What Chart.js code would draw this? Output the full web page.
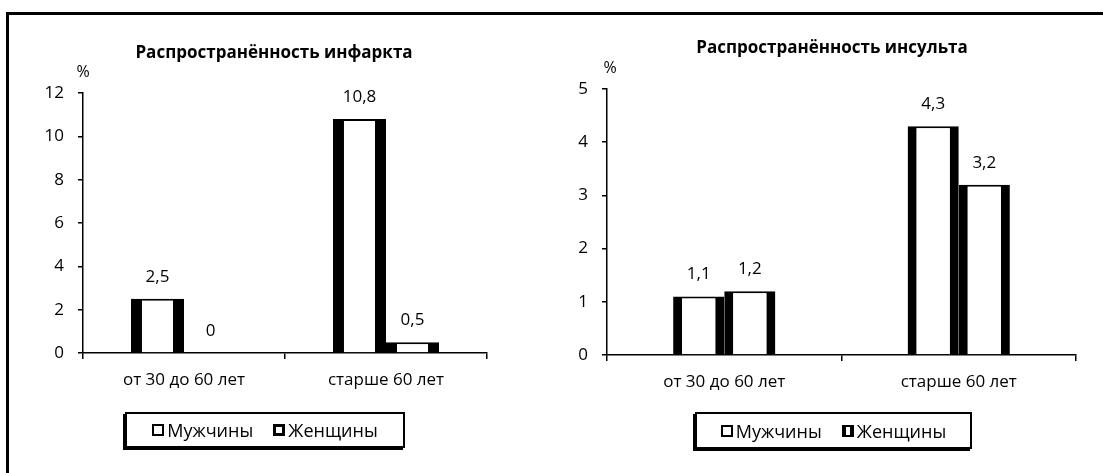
<!DOCTYPE html>
<html>
<head>
<meta charset="utf-8">
<script src="https://cdn.jsdelivr.net/npm/chart.js@4.4.1/dist/chart.umd.min.js"></script>
<style>
  html, body { margin: 0; padding: 0; background: #fff; width: 1103px; height: 473px; overflow: hidden; }
  #frame { position: absolute; left: 6px; top: 12px; width: 1120px; height: 500px;
           border-top: 3px solid #000; border-left: 3px solid #000; }
  .panel { position: absolute; top: 0; height: 473px; }
  #p1 { left: 9px; width: 530px; }
  #p2 { left: 561px; width: 542px; }
  canvas { display: block; }
  .legend { position: absolute; box-sizing: border-box; border: 2px solid #000; box-shadow: -2px 2px 0 #000;
            background: #fff; display: flex; align-items: center; justify-content: center;
            font-family: "Open Sans", sans-serif; font-size: 18px; color: #000; }
  .legend .item { display: flex; align-items: center; margin: 0 10px; }
  .legend .mark { box-sizing: border-box; width: 12px; height: 12px; background: #fff; margin-right: 3px; border: 2px solid #000; }
  #lg1 { left: 125px; top: 412px; width: 280px; height: 36px; }
  #lg2 { left: 695px; top: 412px; width: 277px; height: 37px; }
</style>
</head>
<body>
<div id="frame"></div>
<div class="panel" id="p1"><canvas id="c1" width="530" height="473"></canvas></div>
<div class="panel" id="p2"><canvas id="c2" width="542" height="473"></canvas></div>
<div class="legend" id="lg1"></div>
<div class="legend" id="lg2"></div>
<script>
// Age groups and sexes
const categories = ['от 30 до 60 лет', 'старше 60 лет'];
const seriesNames = ['Мужчины', 'Женщины'];

// Prevalence of myocardial infarction, %
const infarctMen = [2.5, 10.8];
const infarctWomen = [0, 0.5];
const infarctTicks = [0, 2, 4, 6, 8, 10, 12];

// Prevalence of stroke, %
const strokeMen = [1.1, 4.3];
const strokeWomen = [1.2, 3.2];
const strokeTicks = [0, 1, 2, 3, 4, 5];

const FONT = '"Open Sans", sans-serif';
Chart.defaults.font.family = FONT;
Chart.defaults.color = '#000';

// Numbers above bars, with a decimal comma
const valueLabels = {
  id: 'valueLabels',
  afterDatasetsDraw(chart) {
    const ctx = chart.ctx;
    ctx.save();
    ctx.font = '17px ' + FONT;
    ctx.fillStyle = '#000';
    ctx.textAlign = 'center';
    ctx.textBaseline = 'middle';
    chart.data.datasets.forEach((ds, i) => {
      chart.getDatasetMeta(i).data.forEach((bar, j) => {
        ctx.fillText(String(ds.data[j]).replace('.', ','), bar.x, bar.y - 22);
      });
    });
    ctx.restore();
  }
};

// Chart heading and the unit sign over the value axis
const headline = {
  id: 'headline',
  afterDraw(chart, args, opts) {
    const ctx = chart.ctx;
    ctx.save();
    ctx.fillStyle = '#000';
    ctx.textAlign = 'center';
    ctx.textBaseline = 'middle';
    ctx.font = 'bold 17px ' + FONT;
    ctx.fillText(opts.text, opts.x, opts.y);
    ctx.font = '16px ' + FONT;
    ctx.fillText('%', chart.chartArea.left + opts.unitDx, chart.chartArea.top - 21);
    ctx.restore();
  }
};

function makeChart(canvasId, men, women, ticks, cfg) {
  return new Chart(document.getElementById(canvasId), {
    type: 'bar',
    data: {
      labels: categories,
      datasets: [
        { label: seriesNames[0], data: men },
        { label: seriesNames[1], data: women }
      ].map(d => Object.assign(d, {
        backgroundColor: '#fff',
        borderColor: '#000',
        borderWidth: { left: cfg.side, right: cfg.side, top: 2, bottom: 0 },
        borderSkipped: false,
        categoryPercentage: cfg.groupShare,
        barPercentage: 1
      }))
    },
    options: {
      responsive: false,
      animation: false,
      events: [],
      layout: { padding: cfg.padding },
      plugins: {
        legend: { display: false },
        tooltip: { enabled: false },
        headline: { text: cfg.title, x: cfg.titleX, y: cfg.titleY, unitDx: cfg.unitDx }
      },
      scales: {
        x: {
          grid: { display: true, drawOnChartArea: false, offset: true, tickLength: 6, color: '#000', lineWidth: 1.5 },
          border: { color: '#000', width: 1.5 },
          ticks: { font: { size: 17 }, padding: 11, color: '#000' },
          afterFit(s) { s.height = 50; }
        },
        y: {
          min: ticks[0],
          max: ticks[ticks.length - 1],
          afterBuildTicks(s) { s.ticks = ticks.map(v => ({ value: v })); },
          grid: { display: true, drawOnChartArea: false, tickLength: 5, color: '#000', lineWidth: 1.5 },
          border: { color: '#000', width: 1.5 },
          ticks: { font: { size: 17 }, padding: 14, color: '#000' },
          afterFit(s) { s.width = 40; }
        }
      }
    },
    plugins: [valueLabels, headline]
  });
}

makeChart('c1', infarctMen, infarctWomen, infarctTicks, {
  title: 'Распространённость инфаркта', titleX: 265, titleY: 53, unitDx: 0,
  side: 11, groupShare: 0.525,
  padding: { left: 34, right: 52, top: 93, bottom: 70 }
});

makeChart('c2', strokeMen, strokeWomen, strokeTicks, {
  title: 'Распространённость инсульта', titleX: 271, titleY: 48, unitDx: 3,
  side: 9, groupShare: 0.436,
  padding: { left: 6, right: 27, top: 89, bottom: 68 }
});

// Legends built from the series names
function buildLegend(id, marks) {
  const box = document.getElementById(id);
  seriesNames.forEach((name, i) => {
    const item = document.createElement('div');
    item.className = 'item';
    const m = document.createElement('span');
    m.className = 'mark';
    Object.assign(m.style, marks[i]);
    const t = document.createElement('span');
    t.textContent = name;
    item.appendChild(m);
    item.appendChild(t);
    box.appendChild(item);
  });
}
buildLegend('lg1', [{}, { borderWidth: '3px' }]);
buildLegend('lg2', [{}, { borderWidth: '2px 4px' }]);
</script>
</body>
</html>
